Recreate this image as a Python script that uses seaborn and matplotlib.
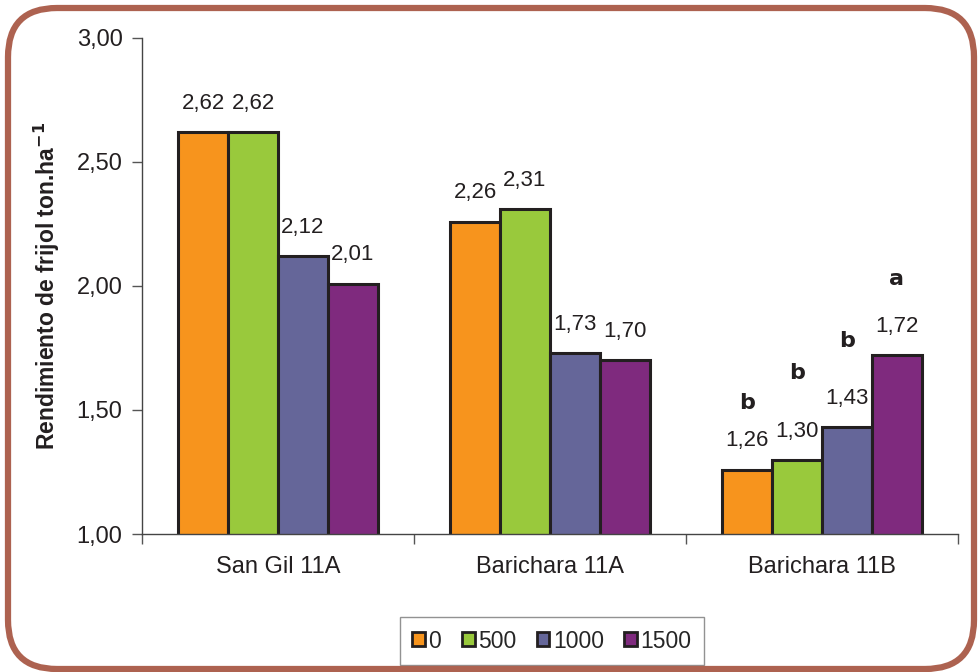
import matplotlib
matplotlib.use("Agg")
import matplotlib.pyplot as plt
from matplotlib.patches import FancyBboxPatch
from matplotlib.ticker import FuncFormatter, FixedLocator
import seaborn as sns
import pandas as pd

sites = ["San Gil 11A", "Barichara 11A", "Barichara 11B"]
doses = ["0", "500", "1000", "1500"]
yield_0 = [2.62, 2.26, 1.26]
yield_500 = [2.62, 2.31, 1.30]
yield_1000 = [2.12, 1.73, 1.43]
yield_1500 = [2.01, 1.70, 1.72]
letters_11b = ["b", "b", "b", "a"]
letter_heights_11b = [1.53, 1.65, 1.78, 2.03]
colors = ["#f7941d", "#99c93c", "#656699", "#7f2a7e"]

rows = []
for dose, vals in zip(doses, [yield_0, yield_500, yield_1000, yield_1500]):
    for site, v in zip(sites, vals):
        rows.append({"site": site, "dose": dose, "yield": v})
df = pd.DataFrame(rows)

sns.set_style("white")
plt.rcParams["font.family"] = ["Liberation Sans", "DejaVu Sans"]

fig = plt.figure(figsize=(9.8, 6.72), dpi=100)
ax = fig.add_axes([142 / 980, 1 - 534 / 672, (958 - 142) / 980, (534 - 38) / 672])

sns.barplot(data=df, x="site", y="yield", hue="dose", order=sites, hue_order=doses,
            palette=colors, saturation=1, width=0.735, gap=0, edgecolor="#231f20",
            linewidth=2.2, errorbar=None, ax=ax, legend=True)

ax.set_ylim(1.0, 3.0)
ax.set_xlim(-0.5, 2.5)
ax.set_yticks([1.0, 1.5, 2.0, 2.5, 3.0])
ax.yaxis.set_major_formatter(FuncFormatter(lambda v, p: f"{v:.2f}".replace(".", ",")))
ax.tick_params(axis="y", direction="out", length=7, width=1, color="#555555",
               labelsize=17, pad=7, left=True, labelcolor="#231f20")
ax.xaxis.set_major_locator(FixedLocator([0, 1, 2]))
ax.set_xticklabels(sites)
ax.xaxis.set_minor_locator(FixedLocator([-0.5, 0.5, 1.5, 2.5]))
ax.tick_params(axis="x", which="major", length=0, labelsize=17, pad=16,
               labelcolor="#231f20")
ax.tick_params(axis="x", which="minor", direction="out", length=7, width=1,
               color="#555555", bottom=True)
for side in ["top", "right"]:
    ax.spines[side].set_visible(False)
for side in ["left", "bottom"]:
    ax.spines[side].set_color("#444444")
    ax.spines[side].set_linewidth(1)
ax.set_xlabel("")
ax.set_ylabel(r"Rendimiento de frijol ton.ha$^{\mathbf{-1}}$", fontsize=16.5,
              fontweight="bold", color="#231f20")
ax.yaxis.set_label_coords((62 - 142) / 816, 0.5)

for container in ax.containers:
    ax.bar_label(container, labels=[f"{b.get_height():.2f}".replace(".", ",")
                                    for b in container],
                 padding=13, fontsize=16, color="#231f20")

# significance letters over Barichara 11B
for container, letter, h in zip(ax.containers, letters_11b, letter_heights_11b):
    bar = container[2]
    ax.text(bar.get_x() + bar.get_width() / 2, h, letter, ha="center", va="center",
            fontsize=16, fontweight="heavy", color="#231f20",
            family=["DejaVu Sans"])

leg = ax.legend(loc="center", bbox_to_anchor=(552 / 980, 1 - 641 / 672),
                bbox_transform=fig.transFigure, ncol=4, frameon=True,
                fontsize=16.5, handlelength=0.55, handleheight=0.55,
                handletextpad=0.15, columnspacing=0.9, borderpad=0.55,
                fancybox=False)
leg.get_frame().set_edgecolor("#777777")
leg.get_frame().set_linewidth(1)
for h in leg.legend_handles:
    h.set_edgecolor("#231f20")
    h.set_linewidth(2)

frame = FancyBboxPatch((8 / 980, 3 / 672), (974 - 8) / 980, (664 - 3) / 672,
                       boxstyle="round,pad=0,rounding_size=0.05",
                       transform=fig.transFigure, fill=False,
                       edgecolor="#ad6250", linewidth=4.5, mutation_aspect=980 / 672)
fig.patches.append(frame)

fig.savefig("out.png", dpi=100)
